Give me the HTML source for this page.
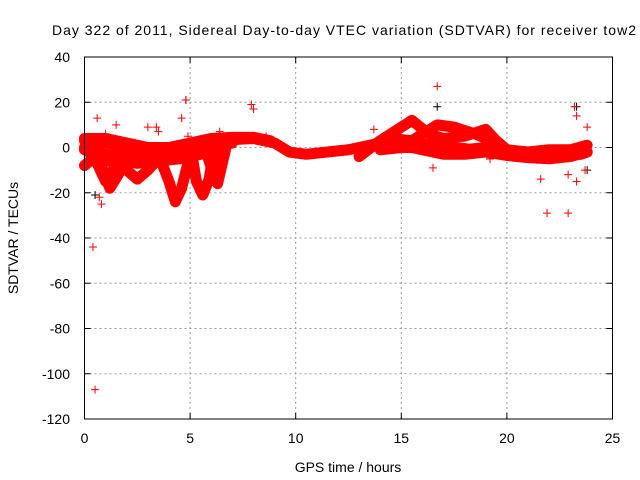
<!DOCTYPE html>
<html><head><meta charset="utf-8"><style>
body{margin:0;background:#fff}
svg{display:block;font-family:"Liberation Sans",sans-serif}
</style></head><body>
<svg id="chart" width="640" height="480">
<rect width="640" height="480" fill="#fff"/>
<text x="344" y="35" font-size="14" text-anchor="middle" textLength="584">Day 322 of 2011, Sidereal Day-to-day VTEC variation (SDTVAR) for receiver tow2</text>
<g id="grid"></g>
<g id="marks"></g>
<rect x="84.5" y="57" width="528" height="362" fill="none" stroke="#000"/>
<g id="ticks" font-size="14" fill="#000"></g>
<text x="348" y="472" font-size="14" text-anchor="middle">GPS time / hours</text>
<text transform="translate(18,238) rotate(-90)" font-size="14" text-anchor="middle">SDTVAR / TECUs</text>
</svg>
<script>
const xTicks=[0,5,10,15,20,25];
const yTicks=[40,20,0,-20,-40,-60,-80,-100,-120];
const trackMain=[[0,3],[1,2],[2,0],[3,-2],[4,-1],[5,1],[6,3],[7,3.5],[8,4],[9,2],[9.7,-2],[10.5,-3],[11.5,-2],[12.5,-1],[13.5,1],[14.5,3],[15.5,2],[16.5,1],[17.5,0],[18.5,-1],[19.5,-2],[20.5,-3],[21.5,-3.5],[22.5,-3.5],[23.5,-3],[23.8,-2]];
const trackTop=[[0,4],[1,4],[2,2],[3,0],[4,0],[5,2],[6,4],[7,4.5],[8,4.5],[8.8,3]];
const trackLow=[[0,-1],[1,-3],[2,-4],[3,-4],[4,-3],[5,-2],[6,0],[7,2]];
const trackLow2=[[0,-8],[0.5,-4],[1.5,-6],[2.5,-7],[3.5,-6],[4.5,-5],[5.5,-3],[6.5,-1]];
const trackB=[[3.5,-3],[4,-15],[4.3,-24],[4.6,-18],[5,-3]];
const trackC=[[5.1,-4],[5.3,-15],[5.6,-21],[5.9,-14],[6.1,-3]];
const trackD=[[5.8,-3],[6.1,-12],[6.3,-16],[6.5,-8],[6.7,0]];
const trackE=[[0.5,-5],[1,-15],[1.5,-8],[2,-5],[3,-4],[4,-4]];
const trackF=[[0.3,-2],[1,-5],[2,-10],[2.5,-14],[3,-10],[3.5,-5]];
const trackG=[[0,0],[0.8,-8],[1.2,-18],[1.6,-12],[2,-3]];
const trackH=[[13,-4],[14,3],[15.5,12],[16.3,6],[17,4],[18,5],[19,8],[19.5,3],[20,-1],[21,-3]];
const trackI=[[14.5,4],[15.5,3],[16.7,10],[17.5,9],[18.5,6],[19.5,2]];
const trackJ=[[15,1],[16,-1],[17,-3],[18,-3],[19,-2],[20,-3.5],[21,-4.5],[22,-5],[23,-4],[23.8,-2]];
const trackK=[[14,-1],[15,0],[16,0],[17,-1],[18,-1],[19,0],[20,-1],[21,-2],[22,-1],[23,-1],[23.8,1]];
const tracks=[trackMain,trackTop,trackLow,trackLow2,trackB,trackC,trackD,trackE,trackF,trackG,trackH,trackI,trackJ,trackK];
const outX=[0.4,0.5,0.6,0.7,0.8,1.0,1.5,3,3.4,3.5,4.6,4.8,7.9,8,8.6,13.7,16.5,16.7,19.2,21.6,21.9,22.9,23.2,23.3,23.3,23.8,23.7,4.9,6.4,22.9];
const outY=[-44,-107,13,-22,-25,6,10,9,9,7,13,21,19,17,5,8,-9,27,-5,-14,-29,-29,18,14,-15,9,-10,5,7,-12];
const blackX=[0.5,4.8,16.7,19.2,23.3,23.8];
const blackY=[-21,21,18,-5,18,-10];
const X=v=>84.5+v*21.12, Y=v=>147.5-v*2.2625;
const NS='http://www.w3.org/2000/svg';
const grid=document.getElementById('grid'),ticks=document.getElementById('ticks'),marks=document.getElementById('marks');
function mk(tag,attrs,parent){const e=document.createElementNS(NS,tag);for(const k in attrs)e.setAttribute(k,attrs[k]);parent.appendChild(e);return e;}
xTicks.forEach(t=>{
 if(t>0&&t<25){const l=mk('line',{x1:X(t),x2:X(t),y1:57,y2:419,stroke:'#999','stroke-dasharray':'2,3'},grid);
 
 }
 mk('line',{x1:X(t),x2:X(t),y1:419,y2:413,stroke:'#000'},grid);
 mk('line',{x1:X(t),x2:X(t),y1:57,y2:63,stroke:'#000'},grid);
 const tx=mk('text',{x:X(t),y:443,'text-anchor':'middle'},ticks);tx.textContent=t;
 
 
});
yTicks.forEach(t=>{
 if(t<40&&t>-120){const l=mk('line',{x1:84.5,x2:612.5,y1:Y(t),y2:Y(t),stroke:'#999','stroke-dasharray':'2,3'},grid);
 
 }
 mk('line',{x1:84.5,x2:90.5,y1:Y(t),y2:Y(t),stroke:'#000'},grid);
 mk('line',{x1:612.5,x2:606.5,y1:Y(t),y2:Y(t),stroke:'#000'},grid);
 const tx=mk('text',{x:70,y:Y(t)+5,'text-anchor':'end'},ticks);tx.textContent=t;
 
 
});
tracks.forEach(tr=>{
 const p=mk('polyline',{points:tr.map(d=>X(d[0])+','+Y(d[1])).join(' '),fill:'none',stroke:'#f00','stroke-width':11,'stroke-linejoin':'round','stroke-linecap':'round'},marks);
 
 
});
function plus(x,y,c){const p=mk('path',{d:`M${x-4},${y}h8M${x},${y-4}v8`,stroke:c,'stroke-width':1},marks);return p;}
blackX.forEach((v,i)=>{const p=plus(X(v),Y(blackY[i]),'#000');
 
 });
outX.forEach((v,i)=>{const p=plus(X(v),Y(outY[i]),'#f00');
 
 });
</script>
</body></html>
